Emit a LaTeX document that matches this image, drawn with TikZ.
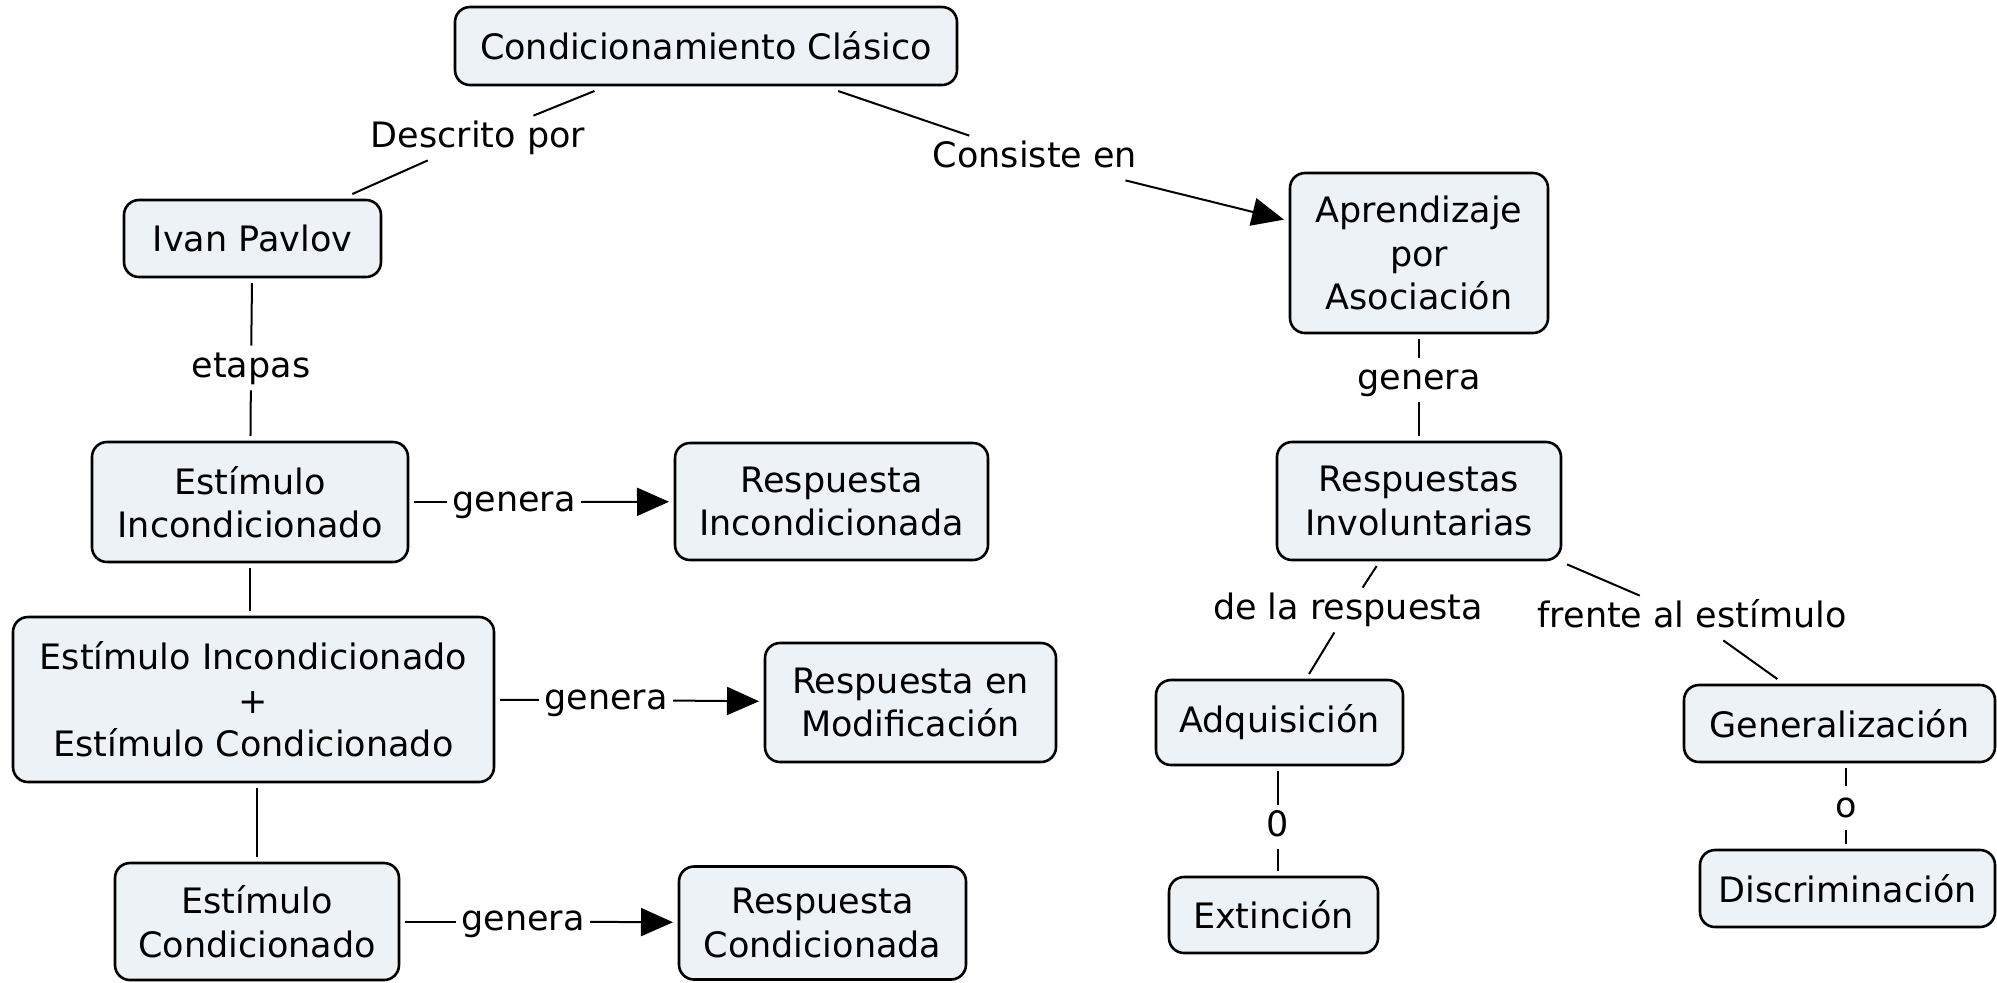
\documentclass[tikz,border=0pt]{standalone}
\usepackage{fontspec}
\setmainfont{DejaVu Sans}
\usetikzlibrary{arrows.meta}
\definecolor{fondo}{RGB}{236,242,246}
\begin{document}
\begin{tikzpicture}[x=0.5pt,y=-0.5pt,> = {Triangle[length=16pt,width=14pt]},
	concepto/.style={draw,line width=1.3pt,rounded corners=7.5pt,fill=fondo,align=center,inner sep=0pt,outer sep=3pt,font=\fontsize{17.5}{21.75}\selectfont},
	enlace/.style={inner sep=2.5pt,text height=13pt,text depth=4pt,font=\fontsize{17.5}{21.75}\selectfont}]
			\useasboundingbox (0,0) rectangle (1997,982);
			%%%%%%%% conceptos
			\node[concepto,minimum width=251pt,minimum height=39pt] (cc) at (706,46) {Condicionamiento Clásico};
			\node[concepto,minimum width=128.5pt,minimum height=38.5pt] (pavlov) at (252.5,238.5) {Ivan Pavlov};
			\node[concepto,minimum width=158pt,minimum height=60pt] (ei) at (250,502) {Estímulo\\Incondicionado};
			\node[concepto,minimum width=156.5pt,minimum height=58.5pt] (ri) at (831.5,501.5) {Respuesta\\Incondicionada};
			\node[concepto,minimum width=240.5pt,minimum height=82.5pt] (eiec) at (253.5,699.5) {Estímulo Incondicionado\\+\\Estímulo Condicionado};
			\node[concepto,minimum width=145.5pt,minimum height=59.5pt] (rm) at (910.5,702.5) {Respuesta en\\Modificación};
			\node[concepto,minimum width=142pt,minimum height=58.5pt] (ec) at (257,921.5) {Estímulo\\Condicionado};
			\node[concepto,minimum width=143.5pt,minimum height=56.5pt] (rc) at (822.5,923) {Respuesta\\Condicionada};
			\node[concepto,minimum width=129pt,minimum height=80pt] (apa) at (1419,253) {Aprendizaje\\por\\Asociación};
			\node[concepto,minimum width=142pt,minimum height=59pt] (rinv) at (1419,501) {Respuestas\\Involuntarias};
			\node[concepto,minimum width=123.5pt,minimum height=42.5pt] (adq) at (1279.5,722.5) {Adquisición};
			\node[concepto,minimum width=104.5pt,minimum height=38pt] (ext) at (1273.5,915) {Extinción};
			\node[concepto,minimum width=155.5pt,minimum height=38.5pt] (gen) at (1839.5,723.5) {Generalización};
			\node[concepto,minimum width=147.5pt,minimum height=38.5pt] (dis) at (1847.5,888.5) {Discriminación};
			%%%%%%%% enlaces
			\node[enlace] (descr) at (478,138) {Descrito por};
			\node[enlace] (consiste) at (1035,158) {Consiste en};
			\node[enlace] (etapas) at (251,368) {etapas};
			\node[enlace] (g1) at (514,502) {genera};
			\node[enlace] (g2) at (606,700) {genera};
			\node[enlace] (g3) at (523,921.5) {genera};
			\node[enlace] (g4) at (1419,380) {genera};
			\node[enlace] (delaresp) at (1348,610) {de la respuesta};
			\node[enlace] (frente) at (1692,618) {frente al estímulo};
			\node[enlace] (cero) at (1278,827) {0};
			\node[enlace] (ou) at (1846,808) {o};
			%%%%%%%% conectores
			\begin{scope}[line width=1pt]
			\draw (cc) -- (descr) -- (pavlov);
			\draw (cc) -- (consiste);
			\draw[->] (consiste) -- (apa);
			\draw (pavlov) -- (etapas) -- (ei);
			\draw (ei.south) -- (ei.south |- eiec.north);
			\draw (ec.north |- eiec.south) -- (ec.north);
			\foreach \a/\g/\b in {ei/g1/ri,eiec/g2/rm,ec/g3/rc}{
				\draw (\a) -- (\g);
				\draw[->] (\g) -- (\b);}
			\draw (apa) -- (g4) -- (rinv);
			\draw (rinv) -- (delaresp) -- (adq);
			\draw (rinv) -- (frente) -- (gen);
			\draw (cero |- adq.south) -- (cero) -- (cero |- ext.north);
			\draw (ou |- gen.south) -- (ou) -- (ou |- dis.north);
			\end{scope}
		\end{tikzpicture}
\end{document}
